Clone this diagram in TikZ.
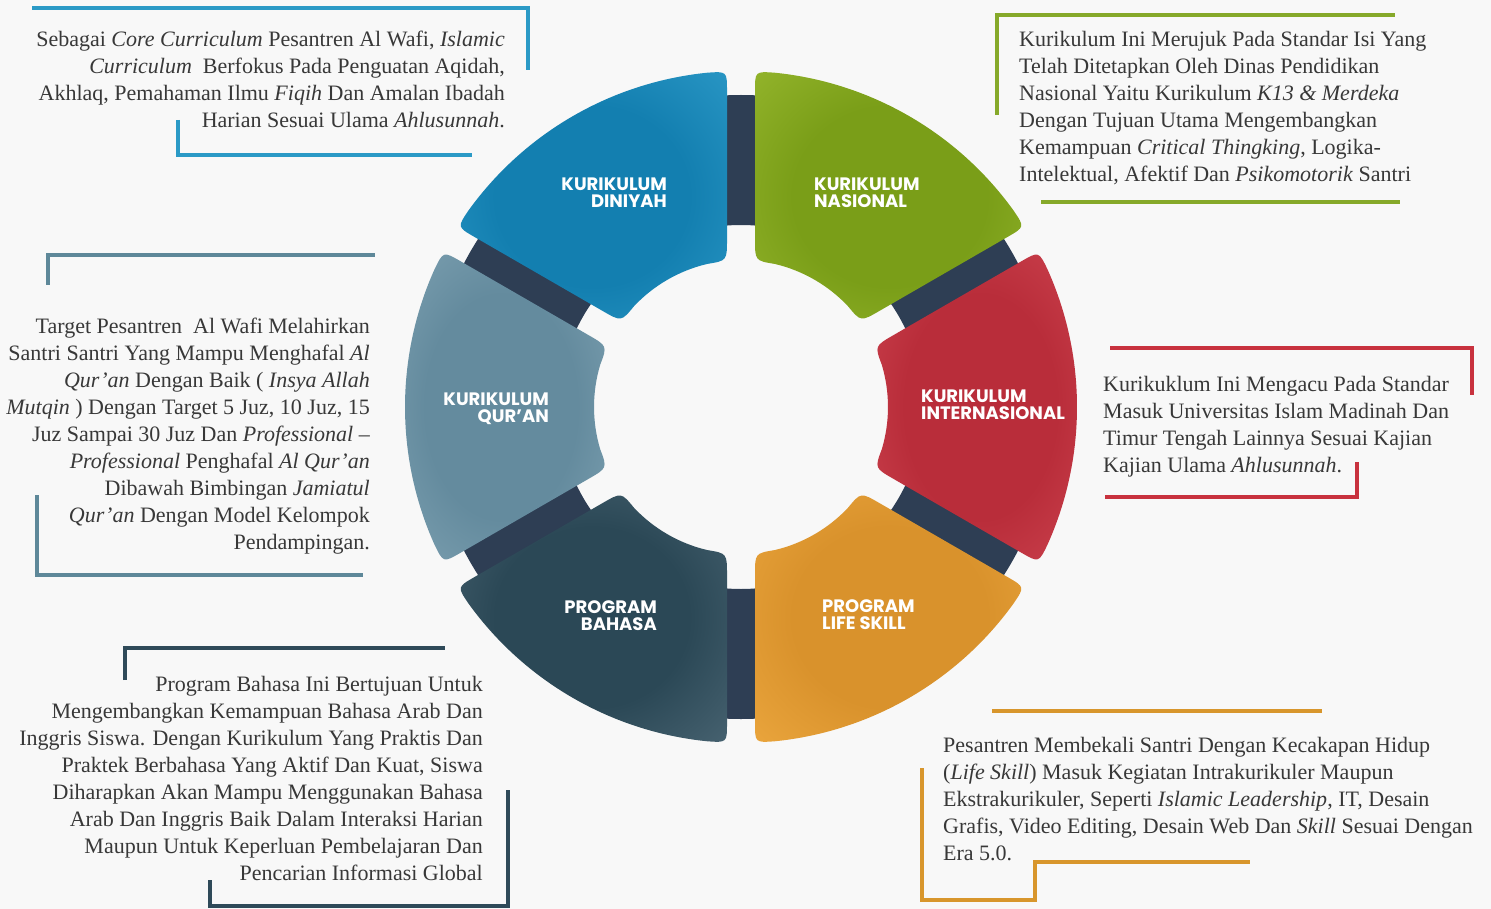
\documentclass[tikz,border=0pt]{standalone}
\usepackage{fontspec}
\setmainfont{Liberation Serif}
\newfontfamily\labelfont{Poppins}
\usetikzlibrary{calc}

\definecolor{bg}{HTML}{F8F8F8}
\definecolor{bodytext}{HTML}{383838}
\definecolor{ringdark}{HTML}{2E3E54}
\definecolor{fblue}{HTML}{2B9AC6}
\definecolor{fgreen}{HTML}{86A92A}
\definecolor{fgray}{HTML}{5E8899}
\definecolor{fred}{HTML}{C8323E}
\definecolor{fslate}{HTML}{2F4A59}
\definecolor{forange}{HTML}{D8962C}
% segment colours: centre / rim
\definecolor{dinIn}{HTML}{137FB0}\definecolor{dinOut}{HTML}{3AA8D4}
\definecolor{nasIn}{HTML}{7A9E18}\definecolor{nasOut}{HTML}{A6C53A}
\definecolor{intIn}{HTML}{B92D3A}\definecolor{intOut}{HTML}{DC5560}
\definecolor{lifIn}{HTML}{D9922C}\definecolor{lifOut}{HTML}{F7B44A}
\definecolor{bahIn}{HTML}{2B4856}\definecolor{bahOut}{HTML}{5D7785}
\definecolor{quIn}{HTML}{648B9E}\definecolor{quOut}{HTML}{94B4C2}
\colorlet{segin}{dinIn}\colorlet{segout}{dinOut}
\pgfdeclareradialshading[segin,segout]{segshade}{\pgfpoint{0bp}{0bp}}{color(0bp)=(segin); color(18bp)=(segin); color(50bp)=(segout)}

\tikzset{
  body/.style={font=\fontsize{22}{27}\selectfont, text=bodytext, inner sep=0pt},
  frame/.style={line width=4pt, line cap=butt, line join=miter},
  seglabel/.style={font=\labelfont\bfseries\fontsize{18}{17}\selectfont, text=white, inner sep=0pt},
}

\begin{document}
\begin{tikzpicture}[x=1pt, y=-1pt]
\fill[bg] (0,0) rectangle (1491,909);
\useasboundingbox (0,0) rectangle (1491,909);

% ---- wheel ----
\begin{scope}[shift={(741,407)}, x=1pt, y=1pt]
  \fill[ringdark, even odd rule] (0,0) circle[radius=312] (0,0) circle[radius=182];
  \foreach \a/\ci/\co in {0/intIn/intOut, 60/nasIn/nasOut, 120/dinIn/dinOut,
                          180/quIn/quOut, 240/bahIn/bahOut, 300/lifIn/lifOut}{
    \pgfmathsetmacro\pa{\a-30}
    \pgfmathsetmacro\pb{\a+30}
    \colorlet{segin}{\ci}\colorlet{segout}{\co}
    \shade[shading=segshade]
      ($(\pa:316)+(\pa+90:14)$)
      .. controls (\pa+2.39:336) .. (\pa+5.8:336)
      arc[start angle=\pa+5.8, end angle=\pb-5.8, radius=336]
      .. controls (\pb-2.39:336) .. ($(\pb:316)+(\pb-90:14)$)
      -- ($(\pb:168)+(\pb-90:14)$)
      .. controls (\pb-5.46:147) .. (\pb-13.3:147)
      arc[start angle=\pb-13.3, end angle=\pa+13.3, radius=147]
      .. controls (\pa+5.46:147) .. ($(\pa:168)+(\pa+90:14)$)
      -- cycle;
  }
\end{scope}

% ---- segment labels ----
\node[seglabel, anchor=east, align=right] (din) at (667,193) {KURIKULUM\\DINIYAH};
\node[seglabel, anchor=west, align=left]  (nas) at (814,193) {KURIKULUM\\NASIONAL};
\node[seglabel, anchor=west, align=left]  (int) at (921,405) {KURIKULUM\\INTERNASIONAL};
\node[seglabel, anchor=west, align=left]  (lif) at (822,615) {PROGRAM\\LIFE SKILL};
\node[seglabel, anchor=east, align=right] (bah) at (657,616) {PROGRAM\\BAHASA};
\node[seglabel, anchor=east, align=right] (qur) at (549,409) {KURIKULUM\\QUR’AN};

% ---- description frames ----
\draw[frame, fblue] (32,8) -- (528,8) -- (528,70);
\draw[frame, fblue] (178,120) -- (178,155) -- (472,155);
\draw[frame, fgreen] (997,115) -- (997,15) -- (1395,15);
\draw[frame, fgreen] (1041,202) -- (1400,202);
\draw[frame, fgray] (48,285) -- (48,255) -- (375,255);
\draw[frame, fgray] (37,495) -- (37,575) -- (363,575);
\draw[frame, fred] (1110,348) -- (1472,348) -- (1472,395);
\draw[frame, fred] (1357,462) -- (1357,497) -- (1105,497);
\draw[frame, fslate] (125,680) -- (125,648) -- (445,648);
\draw[frame, fslate] (508,790) -- (508,906) -- (210,906) -- (210,880);
\draw[frame, forange] (992,711) -- (1322,711);
\draw[frame, forange] (922,768) -- (922,900) -- (1035,900) -- (1035,862) -- (1250,862);

% ---- descriptions (anchored at the baseline of the last line) ----
\node[body, anchor=base east, align=right] (tdin) at (505,128) {Sebagai \textit{Core Curriculum} Pesantren Al Wafi, \textit{Islamic}\\
\textit{Curriculum}\ \ Berfokus Pada Penguatan Aqidah,\\
Akhlaq, Pemahaman Ilmu \textit{Fiqih} Dan Amalan Ibadah\\
Harian Sesuai Ulama \textit{Ahlusunnah}.};

\node[body, anchor=base west, align=left] (tnas) at (1019,182) {Kurikulum Ini Merujuk Pada Standar Isi Yang\\
Telah Ditetapkan Oleh Dinas Pendidikan\\
Nasional Yaitu Kurikulum \textit{K13 \& Merdeka}\\
Dengan Tujuan Utama Mengembangkan\\
Kemampuan \textit{Critical Thingking}, Logika-\\
Intelektual, Afektif Dan \textit{Psikomotorik} Santri};

\node[body, anchor=base east, align=right] (tqur) at (370,549) {Target Pesantren\ \ Al Wafi Melahirkan\\
Santri Santri Yang Mampu Menghafal \textit{Al}\\
\textit{Qur’an} Dengan Baik ( \textit{Insya Allah}\\
\textit{Mutqin} ) Dengan Target 5 Juz, 10 Juz, 15\\
Juz Sampai 30 Juz Dan \textit{Professional} –\\
\textit{Professional} Penghafal \textit{Al Qur’an}\\
Dibawah Bimbingan \textit{Jamiatul}\\
\textit{Qur’an} Dengan Model Kelompok\\
Pendampingan.};

\node[body, anchor=base west, align=left] (tint) at (1103,472) {Kurikuklum Ini Mengacu Pada Standar\\
Masuk Universitas Islam Madinah Dan\\
Timur Tengah Lainnya Sesuai Kajian\\
Kajian Ulama \textit{Ahlusunnah}.};

\node[body, anchor=base east, align=right] (tbah) at (483,880) {Program Bahasa Ini Bertujuan Untuk\\
Mengembangkan Kemampuan Bahasa Arab Dan\\
Inggris Siswa. Dengan Kurikulum Yang Praktis Dan\\
Praktek Berbahasa Yang Aktif Dan Kuat, Siswa\\
Diharapkan Akan Mampu Menggunakan Bahasa\\
Arab Dan Inggris Baik Dalam Interaksi Harian\\
Maupun Untuk Keperluan Pembelajaran Dan\\
Pencarian Informasi Global};

\node[body, anchor=base west, align=left] (tlif) at (943,860) {Pesantren Membekali Santri Dengan Kecakapan Hidup\\
(\textit{Life Skill}) Masuk Kegiatan Intrakurikuler Maupun\\
Ekstrakurikuler, Seperti \textit{Islamic Leadership}, IT, Desain\\
Grafis, Video Editing, Desain Web Dan \textit{Skill} Sesuai Dengan\\
Era 5.0.};
\end{tikzpicture}
\end{document}
